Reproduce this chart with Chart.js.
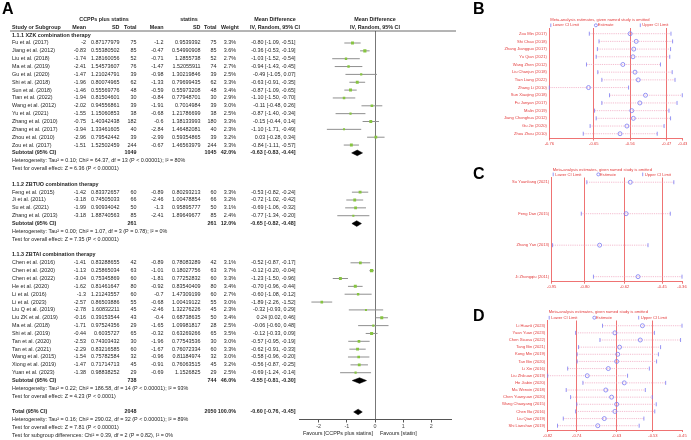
<!DOCTYPE html>
<html>
<head>
<meta charset="utf-8">
<script src="https://cdn.jsdelivr.net/npm/chart.js@4.4.1/dist/chart.umd.min.js"></script>
<style>
  html, body { margin: 0; padding: 0; background: #fff; }
  #fig { position: relative; width: 691px; height: 440px; overflow: hidden; background: #fff; }
  #fig canvas { position: absolute; }
  .tag { position: absolute; font: bold 16px 'Liberation Sans', Arial, sans-serif; line-height: 16px; color: #000; }
</style>
</head>
<body>
<div id="fig">
  <canvas id="chartA" width="460" height="440" style="left:0;top:0;width:460px;height:440px"></canvas>
  <canvas id="chartB" width="231" height="150" style="left:460px;top:0;width:231px;height:150px"></canvas>
  <canvas id="chartC" width="231" height="140" style="left:460px;top:150px;width:231px;height:140px"></canvas>
  <canvas id="chartD" width="231" height="150" style="left:460px;top:290px;width:231px;height:150px"></canvas>
  <div class="tag" style="left:2px;top:1px">A</div>
  <div class="tag" style="left:473px;top:1px">B</div>
  <div class="tag" style="left:473px;top:166px">C</div>
  <div class="tag" style="left:473px;top:308px">D</div>
</div>
<script>
// ---- panel A: forest plot data ----
const studyNames = ['Fu et al. (2017)', 'Jiang et al. (2012)', 'Liu et al. (2018)', 'Ma et al. (2019)', 'Gu et al. (2020)',
  'Shi et al. (2018)', 'Sun et al. (2018)', 'Tian et al. (2022)', 'Wang et al. (2012)', 'Yu et al. (2021)',
  'Zhang et al. (2010)', 'Zhang et al. (2017)', 'Zhou et al. (2010)', 'Zou et al. (2017)',
  'Feng et al. (2015)', 'Ji et al. (2011)', 'Su et al. (2021)', 'Zhang et al. (2013)',
  'Chen et al. (2016)', 'Chen et al. (2020)', 'Chen et al. (2022)', 'He et al. (2020)', 'Li et al. (2016)',
  'Li et al. (2023)', 'Liu Q et al. (2019)', 'Liu ZK et al. (2019)', 'Ma et al. (2018)', 'Shi et al. (2019)',
  'Tan et al. (2020)', 'Tan et al. (2021)', 'Wang et al. (2015)', 'Xiong et al. (2019)', 'Yuan et al. (2023)'];
const studyGroup = [0,0,0,0,0,0,0,0,0,0,0,0,0,0, 1,1,1,1, 2,2,2,2,2,2,2,2,2,2,2,2,2,2,2];
const expMean = [-2, -0.83, -1.74, -2.41, -1.47, -1.96, -1.46, -1.94, -2.02, -1.55, -0.75, -3.94, -2.96, -1.51,
  -1.42, -3.18, -1.99, -3.18,
  -1.41, -1.13, -3.04, -1.62, -1.3, -2.57, -2.78, -0.16, -1.71, -0.44, -2.53, -2.29, -1.54, -1.47, -1.38];
const expSD = [0.87177979, 0.55380502, 1.28160056, 1.54573607, 1.21024791, 0.80074965, 0.55569776, 0.81504601,
  0.94556861, 1.15060853, 1.40342438, 1.33461605, 0.79542442, 1.52502459,
  0.83372657, 0.74505033, 0.90934042, 1.88740563,
  0.83288655, 0.25865034, 0.75345869, 0.81461647, 1.21243557, 0.86503886, 1.60832211, 0.39153544,
  0.97524356, 0.6035727, 0.74303432, 0.83216585, 0.75782584, 0.71714713, 0.98838252];
const expTotal = [75, 85, 52, 76, 39, 62, 48, 30, 39, 38, 182, 40, 39, 244,
  60, 66, 50, 85,
  42, 63, 60, 80, 60, 55, 45, 43, 29, 65, 30, 60, 32, 45, 29];
const ctlMean = [-1.2, -0.47, -0.71, -1.47, -0.98, -1.33, -0.59, -0.84, -1.91, -0.68, -0.6, -2.84, -2.99, -0.67,
  -0.89, -2.46, -1.3, -2.41,
  -0.89, -1.01, -1.81, -0.92, -0.7, -0.68, -2.46, -0.4, -1.65, -0.32, -1.96, -1.67, -0.96, -0.91, -0.69];
const ctlSD = [0.9539392, 0.54990908, 1.2855738, 1.52055911, 1.30219846, 0.79699435, 0.55973208, 0.77948701,
  0.7014984, 1.21786699, 1.38133993, 1.46482081, 0.59354865, 1.46563979,
  0.80293213, 1.00478854, 0.95895777, 1.89649677,
  0.78083289, 0.18027756, 0.77252832, 0.83540409, 1.47309199, 1.00419122, 1.32276226, 0.68738635,
  1.09981817, 0.63269266, 0.77543536, 0.76072334, 0.81184974, 0.76063515, 1.1526825];
const ctlTotal = [75, 85, 52, 74, 39, 62, 48, 30, 39, 38, 180, 40, 39, 244,
  60, 66, 50, 85,
  42, 63, 60, 80, 60, 55, 45, 50, 28, 65, 30, 60, 32, 45, 29];
const weightPct = [3.3, 3.6, 2.7, 2.7, 2.5, 3.3, 3.4, 2.9, 3.0, 2.5, 3.3, 2.3, 3.2, 3.3,
  3.3, 3.2, 3.1, 2.4,
  3.1, 3.7, 3.3, 3.4, 2.7, 3.0, 2.3, 3.4, 2.5, 3.5, 3.0, 3.3, 3.0, 3.2, 2.5];
const meanDiff = [-0.80, -0.36, -1.03, -0.94, -0.49, -0.63, -0.87, -1.10, -0.11, -0.87, -0.15, -1.10, 0.03, -0.84,
  -0.53, -0.72, -0.69, -0.77,
  -0.52, -0.12, -1.23, -0.70, -0.60, -1.89, -0.32, 0.24, -0.06, -0.12, -0.57, -0.62, -0.58, -0.56, -0.69];
const ciLower = [-1.09, -0.53, -1.52, -1.43, -1.05, -0.91, -1.09, -1.50, -0.48, -1.40, -0.44, -1.71, -0.28, -1.11,
  -0.82, -1.02, -1.06, -1.34,
  -0.87, -0.20, -1.50, -0.96, -1.08, -2.26, -0.93, 0.02, -0.60, -0.33, -0.95, -0.91, -0.96, -0.87, -1.24];
const ciUpper = [-0.51, -0.19, -0.54, -0.45, 0.07, -0.35, -0.65, -0.70, 0.26, -0.34, 0.14, -0.49, 0.34, -0.57,
  -0.24, -0.42, -0.32, -0.20,
  -0.17, -0.04, -0.96, -0.44, -0.12, -1.52, 0.29, 0.46, 0.48, 0.09, -0.19, -0.33, -0.20, -0.25, -0.14];

const subgroupNames = ['1.1.1 XZK combination therapy', '1.1.2 ZBTUO combination therapy', '1.1.3 ZBTAI combination therapy'];
const subExpTotal = [1049, 261, 738];
const subCtlTotal = [1045, 261, 744];
const subWeight = [42.0, 12.0, 46.0];
const subMD = [-0.63, -0.65, -0.55];
const subLower = [-0.83, -0.82, -0.81];
const subUpper = [-0.44, -0.48, -0.30];
const subHeterogeneity = [
  'Heterogeneity: Tau² = 0.10; Chi² = 64.37, df = 13 (P < 0.00001); I² = 80%',
  'Heterogeneity: Tau² = 0.00; Chi² = 1.07, df = 3 (P = 0.78); I² = 0%',
  'Heterogeneity: Tau² = 0.22; Chi² = 186.58, df = 14 (P < 0.00001); I² = 93%'];
const subOverallEffect = [
  'Test for overall effect: Z = 6.36 (P < 0.00001)',
  'Test for overall effect: Z = 7.35 (P < 0.00001)',
  'Test for overall effect: Z = 4.23 (P < 0.0001)'];
const totalN = [2048, 2050];
const totalEffect = [-0.60, -0.76, -0.45];
const totalNotes = [
  'Heterogeneity: Tau² = 0.16; Chi² = 290.02, df = 32 (P < 0.00001); I² = 89%',
  'Test for overall effect: Z = 7.81 (P < 0.00001)',
  'Test for subgroup differences: Chi² = 0.39, df = 2 (P = 0.82), I² = 0%'];
const forestTicks = [-2, -1, 0, 1, 2];

// ---- panels B, C, D: leave-one-out data ----
const namesB = ['Zou Min (2017)', 'Shi Chao (2018)', 'Zhang Jiangguo (2017)', 'Yu Qian (2021)', 'Wang Zhen (2012)',
  'Liu Chanjun (2018)', 'Tian Liang (2022)', 'Zhang Li (2010)', 'Sun Xiaojing (2018)', 'Fu Junyan (2017)',
  'Malin (2019)', 'Jiang Chonghua (2012)', 'Gu Jie (2020)', 'Zhou Zhou (2010)'];
const lowerB = [-0.661, -0.637, -0.641, -0.644, -0.668, -0.640, -0.630, -0.760, -0.611, -0.630, -0.648, -0.644, -0.659, -0.676];
const estB = [-0.560, -0.545, -0.551, -0.553, -0.578, -0.548, -0.540, -0.663, -0.522, -0.536, -0.556, -0.552, -0.568, -0.585];
const upperB = [-0.459, -0.455, -0.460, -0.462, -0.485, -0.456, -0.449, -0.564, -0.431, -0.444, -0.464, -0.460, -0.476, -0.493];
const ticksB = [-0.76, -0.65, -0.56, -0.47, -0.43];

const namesC = ['Su Yuanliang (2021)', 'Feng Dan (2015)', 'Zhang Yan (2013)', 'Ji Zhongqiu (2011)'];
const lowerC = [-0.791, -0.816, -0.946, -0.761];
const estC = [-0.594, -0.613, -0.733, -0.559];
const upperC = [-0.397, -0.413, -0.514, -0.360];
const ticksC = [-0.95, -0.80, -0.62, -0.45, -0.36];

const namesD = ['Li Huanli (2023)', 'Yuan Yuan (2023)', 'Chen Xiaosu (2022)', 'Tang Bin (2021)', 'Kong Min (2019)',
  'Tan Bin (2020)', 'Li Xin (2016)', 'Liu Zhikuan (2019)', 'He Jiabin (2020)', 'Ma Wenxin (2018)',
  'Chen Yuanyuan (2020)', 'Wang Chaoyang (2015)', 'Chen Bo (2016)', 'Liu Qian (2019)', 'Shi Lianshan (2019)'];
const lowerD = [-0.669, -0.743, -0.676, -0.735, -0.739, -0.739, -0.765, -0.820, -0.723, -0.769, -0.757, -0.740, -0.743, -0.777, -0.793];
const estD = [-0.559, -0.635, -0.565, -0.622, -0.627, -0.630, -0.653, -0.711, -0.609, -0.660, -0.644, -0.630, -0.635, -0.664, -0.682];
const upperD = [-0.450, -0.526, -0.454, -0.509, -0.515, -0.520, -0.540, -0.600, -0.495, -0.551, -0.532, -0.521, -0.525, -0.555, -0.568];
const ticksD = [-0.82, -0.74, -0.63, -0.53, -0.45];

const omitTitle = 'Meta-analysis estimates, given named study is omitted';
const omitLegend = ['Lower CI Limit', 'Estimate', 'Upper CI Limit'];

const FAMILY = "'Liberation Sans', Arial, sans-serif";
const TABLE_FONT = 5.4;
const RED_TEXT = '#e33b3b';
const RED_LINE = 'rgba(236,90,90,0.85)';
const BLUE = '#7b7bf2';
const PINK = 'rgba(238,150,180,0.9)';

function ciText(md, lo, hi) {
  return md.toFixed(2) + ' [' + lo.toFixed(2) + ', ' + hi.toFixed(2) + ']';
}

// ---- table text of panel A, placed on the chart's row scale ----
const NAME_X = 12;
const COL = {expMean: 86, expSD: 119.5, expTotal: 136.5, ctlMean: 163.5, ctlSD: 200.5, ctlTotal: 216.5, weight: 236, ci: 295.5};
const cells = [];
function put(row, text, x, align, bold) { cells.push({row, text, x, align, bold: !!bold}); }

put(-3.05, 'CCPPs plus statins', 104, 'center', true);
put(-3.05, 'statins', 189, 'center', true);
put(-3.05, 'Mean Difference', 275, 'center', true);
put(-2, 'Study or Subgroup', NAME_X, 'left', true);
put(-2, 'Mean', COL.expMean, 'right', true);
put(-2, 'SD', COL.expSD, 'right', true);
put(-2, 'Total', COL.expTotal, 'right', true);
put(-2, 'Mean', COL.ctlMean, 'right', true);
put(-2, 'SD', COL.ctlSD, 'right', true);
put(-2, 'Total', COL.ctlTotal, 'right', true);
put(-2, 'Weight', 221, 'left', true);
put(-2, 'IV, Random, 95% CI', 275, 'center', true);

const studyRow = [];
const diamonds = []; // [row, md, lo, hi]
let row = -1;
subgroupNames.forEach((name, g) => {
  put(row++, name, NAME_X, 'left', true);
  studyNames.forEach((s, i) => {
    if (studyGroup[i] !== g) return;
    studyRow[i] = row;
    put(row, s, NAME_X, 'left');
    put(row, String(expMean[i]), COL.expMean, 'right');
    put(row, String(expSD[i]), COL.expSD, 'right');
    put(row, String(expTotal[i]), COL.expTotal, 'right');
    put(row, String(ctlMean[i]), COL.ctlMean, 'right');
    put(row, String(ctlSD[i]), COL.ctlSD, 'right');
    put(row, String(ctlTotal[i]), COL.ctlTotal, 'right');
    put(row, weightPct[i].toFixed(1) + '%', COL.weight, 'right');
    put(row, ciText(meanDiff[i], ciLower[i], ciUpper[i]), COL.ci, 'right');
    row++;
  });
  put(row, 'Subtotal (95% CI)', NAME_X, 'left', true);
  put(row, String(subExpTotal[g]), COL.expTotal, 'right', true);
  put(row, String(subCtlTotal[g]), COL.ctlTotal, 'right', true);
  put(row, subWeight[g].toFixed(1) + '%', COL.weight, 'right', true);
  put(row, ciText(subMD[g], subLower[g], subUpper[g]), COL.ci, 'right', true);
  diamonds.push([row, subMD[g], subLower[g], subUpper[g]]);
  row++;
  put(row++, subHeterogeneity[g], NAME_X, 'left');
  put(row++, subOverallEffect[g], NAME_X, 'left');
  row++;
});
put(row, 'Total (95% CI)', NAME_X, 'left', true);
put(row, String(totalN[0]), COL.expTotal, 'right', true);
put(row, String(totalN[1]), COL.ctlTotal, 'right', true);
put(row, '100.0%', COL.weight, 'right', true);
put(row, ciText(totalEffect[0], totalEffect[1], totalEffect[2]), COL.ci, 'right', true);
diamonds.push([row, totalEffect[0], totalEffect[1], totalEffect[2]]);
row++;
totalNotes.forEach(t => put(row++, t, NAME_X, 'left'));

const tablePlugin = {
  id: 'tableText',
  afterDraw(chart) {
    const {ctx, chartArea, scales: {x, y}} = chart;
    ctx.save();
    ctx.textBaseline = 'middle';
    ctx.fillStyle = '#1e1e1e';
    cells.forEach(c => {
      ctx.font = (c.bold ? 'bold ' : '') + TABLE_FONT + 'px ' + FAMILY;
      ctx.textAlign = c.align;
      ctx.fillText(c.text, c.x, y.getPixelForValue(c.row));
    });
    // forest column header
    ctx.font = 'bold ' + TABLE_FONT + 'px ' + FAMILY;
    ctx.textAlign = 'center';
    ctx.fillText('Mean Difference', x.getPixelForValue(0), y.getPixelForValue(-3.05));
    ctx.fillText('IV, Random, 95% CI', x.getPixelForValue(0), y.getPixelForValue(-2));
    // header rule
    ctx.strokeStyle = '#444';
    ctx.lineWidth = 0.8;
    ctx.beginPath();
    ctx.moveTo(10, chartArea.top);
    ctx.lineTo(456, chartArea.top);
    ctx.stroke();
    // favours labels
    ctx.font = TABLE_FONT + 'px ' + FAMILY;
    const zero = x.getPixelForValue(0);
    ctx.textAlign = 'right';
    ctx.fillText('Favours [CCPPs plus statins]', zero - 2, chartArea.bottom + 14.5);
    ctx.textAlign = 'left';
    ctx.fillText('Favours [statin]', zero + 5, chartArea.bottom + 14.5);
    ctx.restore();
  }
};

// CI segments, broken by null points
const ciLines = [];
studyNames.forEach((s, i) => {
  ciLines.push({x: ciLower[i], y: studyRow[i]}, {x: ciUpper[i], y: studyRow[i]}, {x: ciUpper[i], y: null});
});
const diamondSets = [];
diamonds.forEach(([r, md, lo, hi]) => {
  diamondSets.push({
    type: 'line', data: [{x: lo, y: r}, {x: md, y: r - 0.36}, {x: hi, y: r}],
    borderColor: '#000', borderWidth: 0.5, backgroundColor: '#000', pointRadius: 0, fill: '+1', order: 0
  }, {
    type: 'line', data: [{x: lo, y: r}, {x: md, y: r + 0.36}, {x: hi, y: r}],
    borderColor: '#000', borderWidth: 0.5, backgroundColor: '#000', pointRadius: 0, fill: false, order: 0
  });
});

new Chart(document.getElementById('chartA'), {
  type: 'scatter',
  data: {
    datasets: [
      {
        label: 'Studies',
        data: studyNames.map((s, i) => ({x: meanDiff[i], y: studyRow[i]})),
        pointStyle: 'rect',
        pointRadius: weightPct.map(w => w * 0.62),
        pointBackgroundColor: '#86c440',
        pointBorderWidth: 0,
        order: 0
      },
      {
        type: 'line',
        label: '95% CI',
        data: ciLines,
        borderColor: '#8f8f8f',
        borderWidth: 1,
        pointRadius: 0,
        spanGaps: false,
        fill: false,
        order: 1
      },
      ...diamondSets
    ]
  },
  options: {
    responsive: false,
    animation: false,
    devicePixelRatio: 1,
    layout: {padding: {left: 299, right: 9, top: 31, bottom: 0}},
    plugins: {legend: {display: false}, tooltip: {enabled: false}},
    scales: {
      x: {
        type: 'linear', min: -2.7, max: 2.7,
        afterBuildTicks: s => { s.ticks = forestTicks.map(v => ({value: v})); },
        afterFit: s => { s.height = 20.5; },
        ticks: {autoSkip: false, maxRotation: 0, padding: 1, color: '#444', font: {family: FAMILY, size: TABLE_FONT},
          callback: v => String(v)},
        grid: {
          color: c => (c.tick && c.tick.value === 0) ? '#777' : 'rgba(0,0,0,0)',
          lineWidth: 1, tickColor: '#555', tickLength: 3
        },
        border: {display: true, color: '#555', width: 1}
      },
      // one unit = one table row
      y: {type: 'linear', reverse: true, min: -1.529, max: 47.96, display: false}
    }
  },
  plugins: [tablePlugin]
});

// ---- panels B, C, D ----
function makeOmitChart(id, names, lower, est, upper, ticks, box) {
  const canvas = document.getElementById(id);
  const W = canvas.width, H = canvas.height;
  const ranges = [];
  names.forEach((n, i) => { ranges.push({x: lower[i], y: i}, {x: upper[i], y: i}, {x: upper[i], y: null}); });
  const textPlugin = {
    id: 'omitText',
    afterDraw(chart) {
      const {ctx, chartArea} = chart;
      const left = chartArea.left + 1;
      ctx.save();
      ctx.font = '4.1px ' + FAMILY;
      ctx.textBaseline = 'middle';
      ctx.textAlign = 'left';
      ctx.fillStyle = RED_TEXT;
      ctx.fillText(omitTitle, left, box.titleY);
      const offs = [0, 44, 89.5];
      omitLegend.forEach((label, k) => {
        const lx = left + offs[k];
        ctx.strokeStyle = BLUE;
        ctx.lineWidth = 0.8;
        ctx.beginPath();
        if (k === 1) {
          ctx.arc(lx + 1.6, box.legendY, 1.5, 0, Math.PI * 2);
          ctx.stroke();
          ctx.fillText(label, lx + 3.4, box.legendY);
        } else {
          ctx.moveTo(lx + 0.5, box.legendY - 1.8);
          ctx.lineTo(lx + 0.5, box.legendY + 1.8);
          ctx.stroke();
          ctx.fillText(label, lx + 2.5, box.legendY);
        }
      });
      ctx.restore();
    }
  };
  const marker = (values, style) => ({
    data: values.map((v, i) => ({x: v, y: i})),
    pointStyle: style,
    pointRotation: style === 'line' ? 90 : 0,
    pointRadius: 2,
    pointBorderColor: BLUE,
    pointBackgroundColor: 'rgba(255,255,255,0)',
    pointBorderWidth: 0.8,
    clip: false,
    order: 0
  });
  return new Chart(canvas, {
    type: 'scatter',
    data: {
      datasets: [
        Object.assign({label: omitLegend[0]}, marker(lower, 'line')),
        Object.assign({label: omitLegend[1]}, marker(est, 'circle')),
        Object.assign({label: omitLegend[2]}, marker(upper, 'line')),
        {
          type: 'line', label: 'range', data: ranges, borderColor: PINK, borderWidth: 0.7,
          borderDash: [1.2, 1], pointRadius: 0, spanGaps: false, fill: false, order: 2
        }
      ]
    },
    options: {
      responsive: false,
      animation: false,
      devicePixelRatio: 1,
      layout: {padding: {left: 0, right: W - box.right, top: box.top, bottom: 0}},
      plugins: {legend: {display: false}, tooltip: {enabled: false}},
      scales: {
        x: {
          type: 'linear', min: ticks[0], max: ticks[ticks.length - 1],
          afterBuildTicks: s => { s.ticks = ticks.map(v => ({value: v})); },
          afterFit: s => { s.height = H - box.bottom; },
          ticks: {autoSkip: false, maxRotation: 0, padding: 1, color: RED_TEXT, font: {family: FAMILY, size: 4.1},
            callback: v => v.toFixed(2)},
          grid: {
            color: c => (c.index > 0 && c.index < ticks.length - 1) ? RED_LINE : 'rgba(0,0,0,0)',
            lineWidth: 1, tickColor: RED_LINE, tickLength: 2
          },
          border: {display: true, color: RED_LINE, width: 1}
        },
        y: {
          type: 'linear', reverse: true, min: box.rowMin, max: box.rowMax,
          afterBuildTicks: s => { s.ticks = names.map((n, i) => ({value: i})); },
          afterFit: s => { s.width = box.left; },
          ticks: {autoSkip: false, padding: 2.5, color: RED_TEXT, font: {family: FAMILY, size: 4.1},
            callback: v => names[v]},
          grid: {display: false, drawTicks: false},
          border: {display: true, color: RED_LINE, width: 1}
        }
      }
    },
    plugins: [textPlugin]
  });
}

makeOmitChart('chartB', namesB, lowerB, estB, upperB, ticksB,
  {left: 89.3, right: 222.7, top: 28, bottom: 138.5, rowMin: -0.74, rowMax: 13.62, titleY: 20, legendY: 25.3});
makeOmitChart('chartC', namesC, lowerC, estC, upperC, ticksC,
  {left: 91.7, right: 222, top: 27.5, bottom: 131.7, rowMin: -0.15, rowMax: 3.16, titleY: 19.5, legendY: 24.4});
makeOmitChart('chartD', namesD, lowerD, estD, upperD, ticksD,
  {left: 87.7, right: 222, top: 30.5, bottom: 140, rowMin: -0.73, rowMax: 14.6, titleY: 22, legendY: 27.7});
</script>
</body>
</html>
